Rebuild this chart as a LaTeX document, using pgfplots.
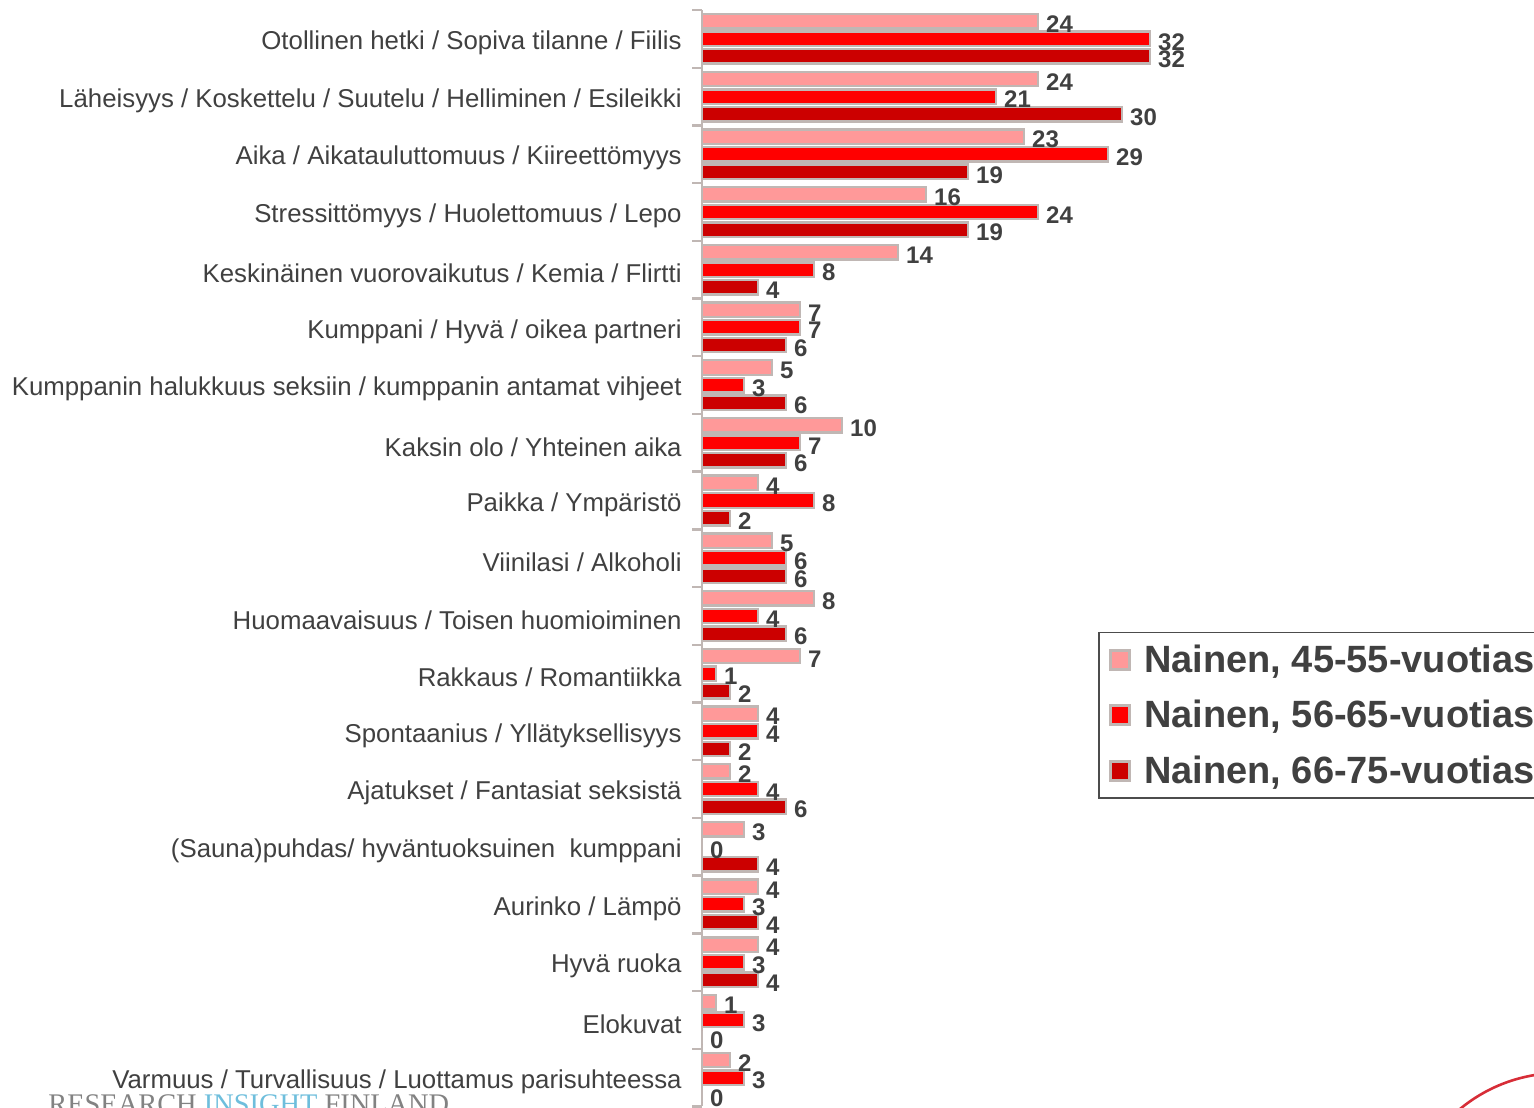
\documentclass[border=0pt]{standalone}
\usepackage{pgfplots}
\pgfplotsset{compat=1.18}
\usepackage{pgfplotstable}
\usepackage{fontspec}
\setmainfont{Liberation Sans}
\newfontfamily\seriffont{Liberation Serif}
\definecolor{cpink}{RGB}{255,153,153}
\definecolor{cred}{RGB}{255,0,0}
\definecolor{cdark}{RGB}{204,0,0}
\definecolor{cborder}{RGB}{192,183,180}
\definecolor{ctext}{RGB}{64,64,64}
\definecolor{ccat}{RGB}{64,64,64}
\definecolor{clogoblue}{RGB}{110,190,220}
\definecolor{clogogray}{RGB}{130,130,130}
\definecolor{carc}{RGB}{215,45,55}

\pgfplotstableread{
idx a b c
0 24 32 32
1 24 21 30
2 23 29 19
3 16 24 19
4 14 8 4
5 7 7 6
6 5 3 6
7 10 7 6
8 4 8 2
9 5 6 6
10 8 4 6
11 7 1 2
12 4 4 2
13 2 4 6
14 3 0 4
15 4 3 4
16 4 3 4
17 1 3 0
18 2 3 0
}\datatable

\begin{document}
\begin{tikzpicture}
\begin{axis}[
  at={(351pt,-5pt)}, anchor=north west,
  scale only axis,
  width=280pt, height=548.2pt,
  xmin=0, xmax=40, ymin=-0.5, ymax=18.5,
  enlargelimits=false,
  y dir=reverse,
  clip=false,
  axis x line=none,
  axis y line=left,
  axis line style={-, draw=cborder, line width=1.2pt},
  /pgf/number format/assume math mode=true,
  xtick=\empty,
  ytick={0,...,18},
  yticklabels={
    {Otollinen hetki / Sopiva tilanne / Fiilis},
    {Läheisyys / Koskettelu / Suutelu / Helliminen / Esileikki},
    {Aika / Aikatauluttomuus / Kiireettömyys},
    {Stressittömyys / Huolettomuus / Lepo},
    {Keskinäinen vuorovaikutus / Kemia / Flirtti},
    {Kumppani / Hyvä / oikea partneri},
    {Kumppanin halukkuus seksiin / kumppanin antamat vihjeet},
    {Kaksin olo / Yhteinen aika},
    {Paikka / Ympäristö},
    {Viinilasi / Alkoholi},
    {Huomaavaisuus / Toisen huomioiminen},
    {Rakkaus / Romantiikka},
    {Spontaanius / Yllätyksellisyys},
    {Ajatukset / Fantasiat seksistä},
    {(Sauna)puhdas/ hyväntuoksuinen\ \ kumppani},
    {Aurinko / Lämpö},
    {Hyvä ruoka},
    {Elokuvat},
    {Varmuus / Turvallisuus / Luottamus parisuhteessa}},
  major tick length=0pt,
  minor ytick={-0.5,0.5,...,18.5},
  minor tick length=5pt,
  tick align=outside,
  minor tick style={draw=cborder, line width=1.2pt},
  yticklabel style={font=\fontsize{12.9}{15}\selectfont, text=ccat, inner xsep=0pt, xshift=-10pt, yshift=-2pt},
  xbar,
  bar width=0.25,
  nodes near coords,
  every node near coord/.append style={anchor=west, font=\bfseries\fontsize{12}{14}\selectfont, text=ctext, inner xsep=1pt, xshift=2.5pt, yshift=-1.5pt},
  legend style={at={(0.707,0.433)}, anchor=north west, draw=black!70, line width=0.8pt,
    font=\bfseries\fontsize{19}{22}\selectfont, text=ctext, inner xsep=5pt, inner ysep=4pt, row sep=8.5pt,
    cells={anchor=west}},
  legend image code/.code={\draw[#1, line width=1.4pt] (0pt,-4.8pt) rectangle (9.6pt,4.8pt); \path[draw=none,fill=none] (0pt,0pt) -- (15pt,0pt);},
]
\addplot[fill=cpink, draw=cborder, line width=1.2pt, bar shift=-0.305] table[x=a, y=idx] {\datatable};
\addplot[fill=cred, draw=cborder, line width=1.2pt, bar shift=0] table[x=b, y=idx] {\datatable};
\addplot[fill=cdark, draw=cborder, line width=1.2pt, bar shift=0.305] table[x=c, y=idx] {\datatable};
\legend{{Nainen, 45-55-vuotias},{Nainen, 56-65-vuotias},{Nainen, 66-75-vuotias}}
\end{axis}
\node[anchor=base west, inner sep=0pt, font=\seriffont\fontsize{14.2}{16}\selectfont] at (24pt,-556.5pt)
  {\textcolor{clogogray}{RESEARCH} \textcolor{clogoblue}{INSIGHT} \textcolor{clogogray}{FINLAND}};
\draw[carc, line width=1.3pt] (780pt,-615pt) circle (78.5pt);
\pgfresetboundingbox
\path[use as bounding box] (0,0) rectangle (767pt,-553.5pt);
\end{tikzpicture}
\end{document}
